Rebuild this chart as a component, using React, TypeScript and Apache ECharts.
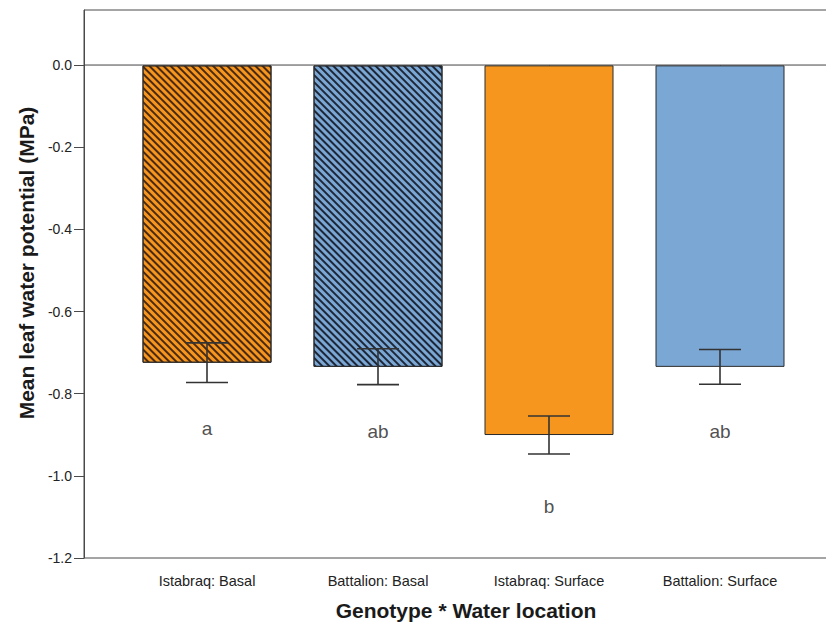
import React, { useEffect, useRef } from "react";
import * as echarts from "echarts";

// Group labels and their summary statistics (MPa)
const categories = ["Istabraq: Basal", "Battalion: Basal", "Istabraq: Surface", "Battalion: Surface"];
const means = [-0.72, -0.73, -0.895, -0.73];
const errLow = [-0.768, -0.773, -0.941, -0.772];
const errHigh = [-0.672, -0.686, -0.849, -0.688];
const letters = ["a", "ab", "b", "ab"];
const letterPos = [-0.878, -0.887, -1.069, -0.887];
const yTicks = { min: -1.2, max: 0.134, step: 0.2 };

const ORANGE = "#F6961F";
const BLUE = "#7BA7D4";
const FONT = "'Liberation Sans', Arial, sans-serif";

export default function App() {
  const ref = useRef<HTMLDivElement>(null);

  useEffect(() => {
    if (!ref.current) return;
    const chart = echarts.init(ref.current, undefined, { renderer: "svg" });

    // diagonal hatching running from upper-left to lower-right
    const hatch = (color: string) => ({
      symbol: "rect",
      symbolSize: 1,
      color,
      dashArrayX: [1, 0],
      dashArrayY: [1.4, 2.3],
      rotation: Math.PI / 4,
    });

    const barData = means.map((v, i) => ({
      value: v,
      itemStyle: {
        color: i % 2 === 0 ? ORANGE : BLUE,
        borderColor: "#2a2a2a",
        borderWidth: 1,
        decal: i < 2 ? hatch(i === 0 ? "#4a2a10" : "#1d2738") : undefined,
      },
    }));

    chart.setOption({
      animation: false,
      backgroundColor: "#fff",
      textStyle: { fontFamily: FONT },
      grid: [
        { left: 84, top: 10, width: 759, height: 551, show: true, borderColor: "#4a4a4a", borderWidth: 1, backgroundColor: "transparent" },
        { left: 121.5, top: 10, width: 684, height: 551 },
      ],
      xAxis: [
        {
          gridIndex: 0,
          type: "value",
          min: 0,
          max: 1,
          axisLine: { show: false },
          axisTick: { show: false },
          axisLabel: { show: false },
          splitLine: { show: false },
          name: "Genotype * Water location",
          nameLocation: "middle",
          nameGap: 42,
          nameTextStyle: { fontSize: 21, fontWeight: "bold", color: "#1a1a1a", fontFamily: FONT, padding: [0, 0, 0, 14] },
        },
        {
          gridIndex: 1,
          type: "category",
          data: categories,
          boundaryGap: true,
          axisLine: { show: false },
          axisTick: { show: true, alignWithLabel: true, length: 9, lineStyle: { color: "#444" } },
          axisLabel: { fontSize: 14.5, color: "#222", margin: 12, fontFamily: FONT },
        },
      ],
      yAxis: [
        {
          gridIndex: 0,
          type: "value",
          min: yTicks.min,
          max: yTicks.max,
          interval: yTicks.step,
          axisLine: { show: true, lineStyle: { color: "#4a4a4a" } },
          axisTick: { show: true, length: 10, lineStyle: { color: "#4a4a4a" } },
          axisLabel: {
            fontSize: 14,
            color: "#222",
            margin: 12,
            showMaxLabel: false,
            fontFamily: FONT,
            formatter: (v: number) => (Math.abs(v) < 1e-9 ? "0.0" : v.toFixed(1)),
          },
          splitLine: { show: false },
          name: "Mean leaf water potential (MPa)",
          nameLocation: "middle",
          nameGap: 45,
          nameRotate: 90,
          nameTextStyle: { fontSize: 21, fontWeight: "bold", color: "#1a1a1a", fontFamily: FONT, padding: [0, 0, 0, 42] },
        },
        { gridIndex: 1, type: "value", min: yTicks.min, max: yTicks.max, show: false },
      ],
      series: [
        {
          // zero reference line across the full frame
          type: "line",
          xAxisIndex: 0,
          yAxisIndex: 0,
          data: [[0, 0], [1, 0]],
          symbol: "none",
          silent: true,
          lineStyle: { color: "#444", width: 1 },
        },
        {
          type: "bar",
          xAxisIndex: 1,
          yAxisIndex: 1,
          barWidth: 129,
          data: barData,
        },
        {
          type: "custom",
          xAxisIndex: 1,
          yAxisIndex: 1,
          data: categories.map((_, i) => [i, errLow[i], errHigh[i]]),
          renderItem: (params: any, api: any) => {
            const i = api.value(0);
            const lo = api.coord([i, api.value(1)]);
            const hi = api.coord([i, api.value(2)]);
            const half = 21;
            const style = { stroke: "#333", lineWidth: 1.6 };
            return {
              type: "group",
              children: [
                { type: "line", shape: { x1: lo[0], y1: lo[1], x2: hi[0], y2: hi[1] }, style },
                { type: "line", shape: { x1: lo[0] - half, y1: lo[1], x2: lo[0] + half, y2: lo[1] }, style },
                { type: "line", shape: { x1: hi[0] - half, y1: hi[1], x2: hi[0] + half, y2: hi[1] }, style },
              ],
            };
          },
          z: 5,
        },
        {
          type: "scatter",
          xAxisIndex: 1,
          yAxisIndex: 1,
          symbolSize: 0,
          data: letterPos.map((v, i) => [i, v]),
          label: {
            show: true,
            position: "inside",
            fontSize: 19,
            color: "#222",
            fontFamily: FONT,
            formatter: (p: any) => letters[p.dataIndex],
          },
        },
      ],
    });

    return () => chart.dispose();
  }, []);

  return <div ref={ref} style={{ width: 834, height: 626, marginLeft: -8, marginTop: -8 }} />;
}
